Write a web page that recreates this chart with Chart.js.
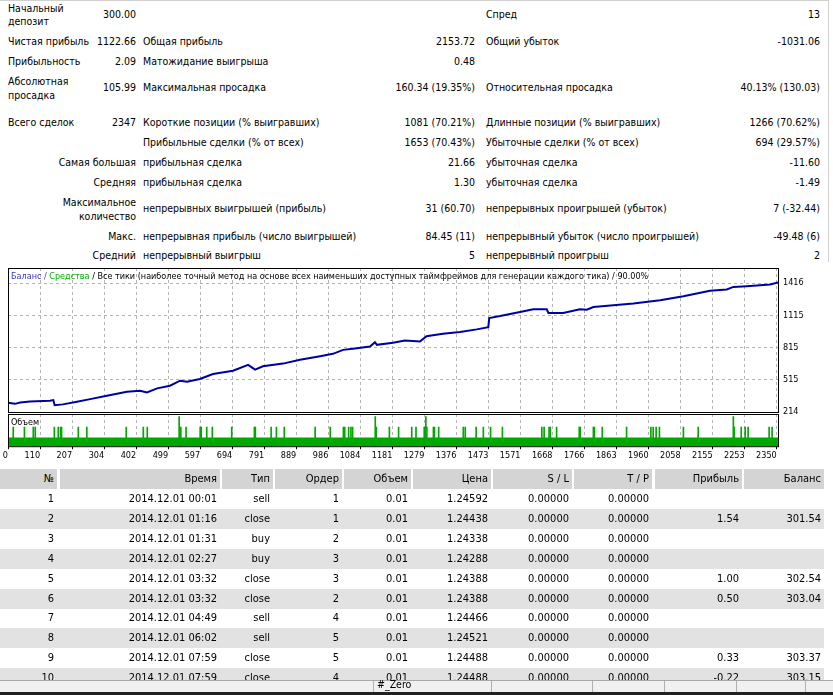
<!DOCTYPE html>
<html>
<head>
<meta charset="utf-8">
<script src="https://cdn.jsdelivr.net/npm/chart.js@4.4.1/dist/chart.umd.min.js"></script>
<style>
  body { margin: 0; width: 833px; height: 695px; overflow: hidden; position: relative; background: #fff;
         font: 10.5px "DejaVu Sans Condensed", "DejaVu Sans", sans-serif; color: #000; }
  .t { position: absolute; white-space: nowrap; line-height: 13.4px; transform: translateY(-50%); }
  .r { text-align: right; }
  .box { position: absolute; }
  .cell { position: absolute; box-sizing: border-box; padding-right: 3px; text-align: right; white-space: nowrap;
          line-height: 20px; height: 20px; font-size: 11px; }
  .small { font-size: 9px; }
</style>
</head>
<body>
<div class="box" style="left:0;top:0;width:829px;height:1px;background:#d0d0d0"></div>
<div class="box" style="left:828px;top:0;width:1px;height:262px;background:#d0d0d0"></div>
<div id="stats"></div>

<div class="box" style="left:0;top:262px;width:833px;height:160px"><canvas id="balanceChart"></canvas></div>
<div class="box" style="left:0;top:410px;width:833px;height:52px"><canvas id="volumeChart"></canvas></div>
<div class="t small" style="left:11px;top:277px">
  <span style="color:#3838c0">Баланс /</span> <span style="color:#00b000">Средства</span> / Все тики (наиболее точный метод на основе всех наименьших доступных таймфреймов для генерации каждого тика) / 90.00%
</div>
<div class="t small" style="left:11px;top:423px">Объем</div>

<div id="trades"></div>
<div class="box" style="left:0;top:680px;width:833px;height:12px;background:#f0f0f0;border-top:1px solid #a8a8a8"></div>
<div id="status"></div>
<div class="box" style="left:0;top:692px;width:833px;height:3px;background:#202020"></div>

<script>
// --- данные графика ---
const balanceTrades = [0, 21, 37, 67, 128, 138, 142, 167, 210, 250, 301, 362, 402, 423, 454, 493, 524, 545, 584, 624,
  685, 731, 752, 776, 837, 889, 950, 989, 1020, 1050, 1102, 1117, 1123, 1172, 1208, 1254, 1274, 1324, 1376, 1427,
  1462, 1465, 1498, 1559, 1599, 1640, 1645, 1690, 1741, 1762, 1782, 1843, 1904, 1985, 2056, 2137, 2188, 2208, 2249, 2320, 2347];
const balanceValues = [300, 290, 303, 312, 318, 325, 277, 285, 309, 334, 365, 402, 412, 396, 434, 459, 506, 497, 522, 568,
  599, 653, 609, 640, 665, 700, 734, 756, 793, 803, 824, 865, 840, 859, 881, 871, 921, 943, 959, 984,
  1005, 1090, 1108, 1146, 1171, 1171, 1137, 1137, 1171, 1168, 1193, 1209, 1225, 1256, 1293, 1343, 1356, 1380, 1387, 1403, 1423];

const baseVolume = 0.01;   // почти все сделки 0.01 лота
const volumeTrades = [16, 50, 77, 83, 141, 153, 160, 163, 214, 240, 360, 412, 424, 521, 526, 542, 585, 588, 605, 622,
  681, 750, 753, 801, 817, 841, 935, 981, 1021, 1025, 1037, 1044, 1049, 1118, 1121, 1161, 1189, 1229, 1242, 1267,
  1272, 1275, 1295, 1298, 1311, 1386, 1392, 1425, 1447, 1469, 1505, 1625, 1632, 1647, 1651, 1670, 1739, 1742, 1782, 1785,
  1809, 1883, 1957, 1964, 1973, 1983, 2056, 2101, 2208, 2211, 2232, 2244, 2253, 2317, 2326];
const volumeValues = [0.02, 0.02, 0.02, 0.02, 0.02, 0.02, 0.02, 0.02, 0.02, 0.02, 0.02, 0.02, 0.02, 0.03, 0.02, 0.02, 0.02, 0.02, 0.02, 0.02,
  0.02, 0.02, 0.02, 0.02, 0.02, 0.02, 0.02, 0.02, 0.02, 0.02, 0.02, 0.02, 0.02, 0.03, 0.02, 0.02, 0.02, 0.02, 0.02, 0.02,
  0.03, 0.02, 0.02, 0.02, 0.02, 0.02, 0.02, 0.02, 0.02, 0.02, 0.02, 0.02, 0.02, 0.02, 0.02, 0.02, 0.02, 0.02, 0.02, 0.02,
  0.02, 0.02, 0.02, 0.02, 0.02, 0.02, 0.02, 0.02, 0.03, 0.02, 0.02, 0.02, 0.02, 0.02, 0.02];

const yTickValues = [214, 515, 815, 1115, 1416];
const xTickLabels = ['0', '110', '207', '304', '402', '499', '597', '694', '791', '889', '986', '1084', '1181',
  '1279', '1376', '1473', '1571', '1668', '1766', '1863', '1960', '2058', '2155', '2253', '2350'];
const xTickStep = 97.5;
const totalTrades = 2347;

// --- отчёт ---
const stats = [
  [15, [['Начальный<br>депозит', 8, 'l'], ['300.00', 136, 'r'], ['Спред', 486, 'l'], ['13', 820, 'r']]],
  [41.7, [['Чистая прибыль', 8, 'l'], ['1122.66', 136, 'r'], ['Общая прибыль', 143, 'l'], ['2153.72', 475, 'r'], ['Общий убыток', 486, 'l'], ['-1031.06', 820, 'r']]],
  [61.7, [['Прибыльность', 8, 'l'], ['2.09', 136, 'r'], ['Матожидание выигрыша', 143, 'l'], ['0.48', 475, 'r']]],
  [88.3, [['Абсолютная<br>просадка', 8, 'l'], ['105.99', 136, 'r'], ['Максимальная просадка', 143, 'l'], ['160.34 (19.35%)', 475, 'r'], ['Относительная просадка', 486, 'l'], ['40.13% (130.03)', 820, 'r']]],
  [123.3, [['Всего сделок', 8, 'l'], ['2347', 136, 'r'], ['Короткие позиции (% выигравших)', 143, 'l'], ['1081 (70.21%)', 475, 'r'], ['Длинные позиции (% выигравших)', 486, 'l'], ['1266 (70.62%)', 820, 'r']]],
  [143.3, [['Прибыльные сделки (% от всех)', 143, 'l'], ['1653 (70.43%)', 475, 'r'], ['Убыточные сделки (% от всех)', 486, 'l'], ['694 (29.57%)', 820, 'r']]],
  [163.3, [['Самая большая', 136, 'r'], ['прибыльная сделка', 143, 'l'], ['21.66', 475, 'r'], ['убыточная сделка', 486, 'l'], ['-11.60', 820, 'r']]],
  [183.3, [['Средняя', 136, 'r'], ['прибыльная сделка', 143, 'l'], ['1.30', 475, 'r'], ['убыточная сделка', 486, 'l'], ['-1.49', 820, 'r']]],
  [209.3, [['Максимальное<br>количество', 136, 'r'], ['непрерывных выигрышей (прибыль)', 143, 'l'], ['31 (60.70)', 475, 'r'], ['непрерывных проигрышей (убыток)', 486, 'l'], ['7 (-32.44)', 820, 'r']]],
  [236.7, [['Макс.', 136, 'r'], ['непрерывная прибыль (число выигрышей)', 143, 'l'], ['84.45 (11)', 475, 'r'], ['непрерывный убыток (число проигрышей)', 486, 'l'], ['-49.48 (6)', 820, 'r']]],
  [255.7, [['Средний', 136, 'r'], ['непрерывный выигрыш', 143, 'l'], ['5', 475, 'r'], ['непрерывный проигрыш', 486, 'l'], ['2', 820, 'r']]]
];

const columns = [
  ['№', 0, 57], ['Время', 60, 220], ['Тип', 222, 273], ['Ордер', 275, 342], ['Объем', 344, 411],
  ['Цена', 413, 491], ['S / L', 493, 572], ['T / P', 574, 652], ['Прибыль', 655, 742], ['Баланс', 744, 824]
];
const trades = [
  ['1', '2014.12.01 00:01', 'sell', '1', '0.01', '1.24592', '0.00000', '0.00000', '', ''],
  ['2', '2014.12.01 01:16', 'close', '1', '0.01', '1.24438', '0.00000', '0.00000', '1.54', '301.54'],
  ['3', '2014.12.01 01:31', 'buy', '2', '0.01', '1.24338', '0.00000', '0.00000', '', ''],
  ['4', '2014.12.01 02:27', 'buy', '3', '0.01', '1.24288', '0.00000', '0.00000', '', ''],
  ['5', '2014.12.01 03:32', 'close', '3', '0.01', '1.24388', '0.00000', '0.00000', '1.00', '302.54'],
  ['6', '2014.12.01 03:32', 'close', '2', '0.01', '1.24388', '0.00000', '0.00000', '0.50', '303.04'],
  ['7', '2014.12.01 04:49', 'sell', '4', '0.01', '1.24466', '0.00000', '0.00000', '', ''],
  ['8', '2014.12.01 06:02', 'sell', '5', '0.01', '1.24521', '0.00000', '0.00000', '', ''],
  ['9', '2014.12.01 07:59', 'close', '5', '0.01', '1.24488', '0.00000', '0.00000', '0.33', '303.37'],
  ['10', '2014.12.01 07:59', 'close', '4', '0.01', '1.24488', '0.00000', '0.00000', '-0.22', '303.15']
];
const statusSeparators = [373, 491, 592, 664, 736, 805];

// таблица результатов
const statsEl = document.getElementById('stats');
stats.forEach(([y, cells]) => {
  cells.forEach(([text, x, align]) => {
    const d = document.createElement('div');
    d.className = 't' + (align === 'r' ? ' r' : '');
    d.innerHTML = text;
    d.style.top = y + 'px';
    if (align === 'r') d.style.right = (833 - x) + 'px'; else d.style.left = x + 'px';
    statsEl.appendChild(d);
  });
});

// список сделок
const tradesEl = document.getElementById('trades');
columns.forEach(([name, l, r]) => {
  const c = document.createElement('div');
  c.className = 'cell';
  c.style.cssText = `left:${l}px;width:${r - l}px;top:469px;background:#d4d4d4`;
  c.textContent = name;
  tradesEl.appendChild(c);
});
trades.forEach((row, i) => {
  const top = 489 + i * 19.9;
  if (i % 2 === 1) {
    const bg = document.createElement('div');
    bg.className = 'box';
    bg.style.cssText = `left:0;width:824px;top:${top}px;height:20px;background:#e2e2e2`;
    tradesEl.appendChild(bg);
  }
  row.forEach((v, j) => {
    const c = document.createElement('div');
    c.className = 'cell';
    c.style.cssText = `left:${columns[j][1]}px;width:${columns[j][2] - columns[j][1]}px;top:${top}px`;
    c.textContent = v;
    tradesEl.appendChild(c);
  });
});

const statusEl = document.getElementById('status');
statusSeparators.forEach(x => {
  const s = document.createElement('div');
  s.className = 'box';
  s.style.cssText = `left:${x}px;top:681px;width:1px;height:11px;background:#b0b0b0`;
  statusEl.appendChild(s);
});
const z = document.createElement('div');
z.className = 't';
z.style.cssText = 'left:377px;top:684px;line-height:11px;font-size:10.5px';
z.textContent = '#_Zero';
statusEl.appendChild(z);

// --- графики ---
Chart.defaults.font.family = '"DejaVu Sans Condensed", "DejaVu Sans", sans-serif';
Chart.defaults.font.size = 9;
Chart.defaults.color = '#000';

// рамка панели
const mtFrame = {
  id: 'mtFrame',
  afterDraw(chart) {
    const { ctx, chartArea: a } = chart;
    ctx.save();
    ctx.strokeStyle = '#000';
    ctx.lineWidth = 1;
    ctx.strokeRect(a.left + 0.5, a.top + 0.5, a.right - a.left - 1, a.bottom - a.top);
    ctx.restore();
  }
};

const setXTicks = scale => {
  scale.ticks = xTickLabels.map((_, i) => ({ value: i * xTickStep }));
};

const gridStyle = { color: '#b4b4b4', lineWidth: 1, drawTicks: false };

new Chart(document.getElementById('balanceChart'), {
  type: 'line',
  data: {
    datasets: [{
      label: 'Баланс',
      data: balanceTrades.map((t, i) => ({ x: t, y: balanceValues[i] })),
      borderColor: '#0000a0',
      borderWidth: 2,
      pointRadius: 0,
      tension: 0
    }]
  },
  options: {
    responsive: true,
    maintainAspectRatio: false,
    animation: false,
    layout: { padding: { left: 8, top: 6, right: 0, bottom: 10 } },
    plugins: { legend: { display: false }, tooltip: { enabled: false } },
    scales: {
      x: {
        type: 'linear', min: 0, max: totalTrades,
        afterBuildTicks: setXTicks,
        ticks: { display: false },
        grid: gridStyle,
        border: { display: false, dash: [3, 3] }
      },
      y: {
        position: 'right', min: 214, max: 1556,
        afterBuildTicks: s => { s.ticks = yTickValues.map(v => ({ value: v })); },
        afterFit: s => { s.width = 54; s.paddingTop = 0; s.paddingBottom = 0; },
        ticks: { padding: 4, callback: v => String(v) },
        grid: gridStyle,
        border: { display: false, dash: [3, 3] }
      }
    }
  },
  plugins: [mtFrame]
});

new Chart(document.getElementById('volumeChart'), {
  data: {
    datasets: [{
      type: 'bar',
      label: 'Объем',
      data: volumeTrades.map((t, i) => ({ x: t, y: volumeValues[i] })),
      backgroundColor: '#00a800',
      barThickness: 1
    }, {
      type: 'line',
      label: 'Объем 0.01',
      data: [{ x: 0, y: baseVolume }, { x: totalTrades, y: baseVolume }],
      borderWidth: 0,
      pointRadius: 0,
      fill: 'start',
      backgroundColor: '#00a800'
    }]
  },
  options: {
    responsive: true,
    maintainAspectRatio: false,
    animation: false,
    layout: { padding: { left: 8, top: 4, right: 0, bottom: 0 } },
    plugins: { legend: { display: false }, tooltip: { enabled: false } },
    scales: {
      x: {
        type: 'linear', min: 0, max: totalTrades, offset: false,
        afterBuildTicks: setXTicks,
        ticks: { align: 'end', padding: 1, maxRotation: 0, autoSkip: false, callback: (v, i) => xTickLabels[i] },
        grid: { color: '#b4b4b4', lineWidth: 1, offset: false, drawTicks: true, tickLength: 3,
                tickColor: '#000', tickBorderDash: [] },
        border: { display: false, dash: [3, 3] }
      },
      y: {
        position: 'right', min: 0.0016, max: 0.0326,
        afterFit: s => { s.width = 54; },
        ticks: { display: false },
        grid: { display: false },
        border: { display: false }
      }
    }
  },
  plugins: [mtFrame]
});
</script>
</body>
</html>
